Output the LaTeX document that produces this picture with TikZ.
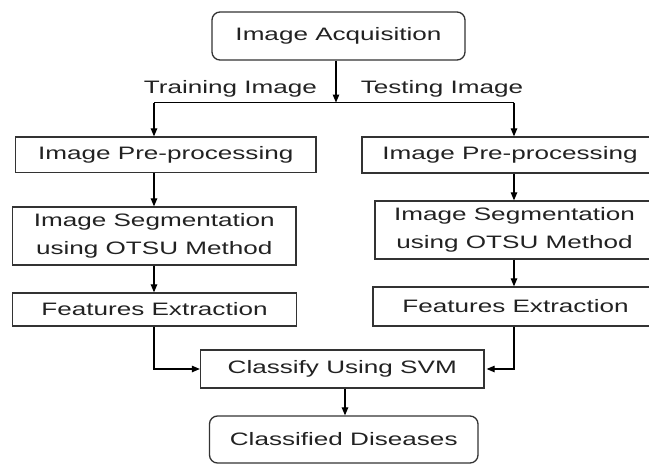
\documentclass[tikz,border=0pt]{standalone}
\usepackage{fontspec}
\setmainfont{Liberation Sans}[FakeStretch=1.45]
\usetikzlibrary{arrows.meta}
\definecolor{ink}{HTML}{222222}
\definecolor{edge}{HTML}{333333}
\begin{document}
\begin{tikzpicture}[x=1pt,y=-1pt,
  box/.style={draw=edge, line width=1.3pt, inner sep=0pt, align=center, text=ink,
    font=\fontsize{18}{27.5}\selectfont},
  rbox/.style={box, rounded corners=8pt},
  lbl/.style={inner sep=0pt, anchor=base, text=ink, font=\fontsize{18}{22}\selectfont},
  conn/.style={draw=black, line width=1.2pt},
  arr/.style={conn, -{Triangle[length=8pt,width=6.5pt]}}]
\useasboundingbox (0,0) rectangle (649,464);
\fill[white] (0,0) rectangle (649,464);

% nodes
\node[rbox, minimum width=253pt, minimum height=48pt] (acq) at (338.5,36) {Image Acquisition};
\node[box, minimum width=300.5pt, minimum height=35.5pt] (lpre) at (165.75,154.75) {Image Pre-processing};
\node[box, minimum width=283.5pt, minimum height=58pt] (lseg) at (154.25,236) {Image Segmentation\\using OTSU Method};
\node[box, minimum width=284.4pt, minimum height=33pt] (lfe) at (154.5,309.5) {Features Extraction};
\node[box, minimum width=296pt, minimum height=36pt] (rpre) at (510,155) {Image Pre-processing};
\node[box, minimum width=279pt, minimum height=58pt] (rseg) at (514.5,230) {Image Segmentation\\using OTSU Method};
\node[box, minimum width=285pt, minimum height=39pt] (rfe) at (515.5,306.5) {Features Extraction};
\node[box, minimum width=283.5pt, minimum height=38pt] (cls) at (342.25,369) {Classify Using SVM};
\node[rbox, minimum width=268.5pt, minimum height=47pt] (dis) at (343.75,439.5) {Classified Diseases};

\node[lbl] (train) at (230.5,93) {Training Image};
\node[lbl] (test) at (442,93) {Testing Image};

% column guides
\coordinate (lc) at (154,0);
\coordinate (rc) at (514,0);
\coordinate (mc) at (336,0);
\coordinate (bc) at (345,0);
\coordinate (jy) at (0,102.5);
\coordinate (ly) at (0,369);

% connectors
\draw[arr] (acq.south -| mc) -- (mc |- jy);
\draw[conn] (lc |- jy) -- (rc |- jy);
\draw[arr] (lc |- jy) -- (lpre.north -| lc);
\draw[arr] (rc |- jy) -- (rpre.north -| rc);
\draw[arr] (lpre.south -| lc) -- (lseg.north -| lc);
\draw[arr] (lseg.south -| lc) -- (lfe.north -| lc);
\draw[arr] (rpre.south -| rc) -- (rseg.north -| rc);
\draw[arr] (rseg.south -| rc) -- (rfe.north -| rc);
\draw[arr] (lfe.south -| lc) -- (lc |- ly) -- (cls.west |- ly);
\draw[arr] (rfe.south -| rc) -- (rc |- ly) -- ([xshift=2pt]cls.east |- ly);
\draw[arr] (cls.south -| bc) -- (dis.north -| bc);
\end{tikzpicture}
\end{document}
